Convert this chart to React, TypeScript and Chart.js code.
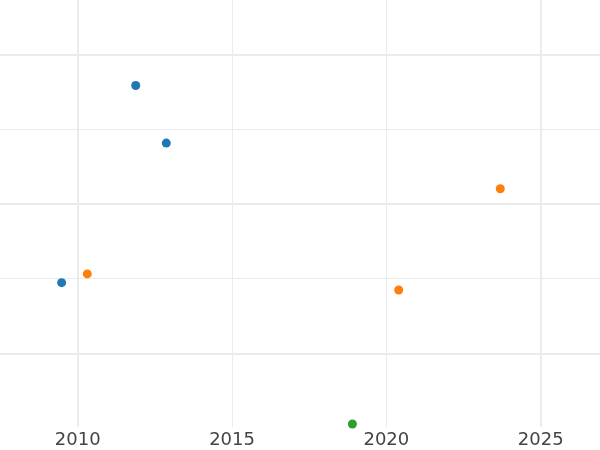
import React, { useEffect, useRef } from "react";
import { Chart, registerables } from "chart.js";

Chart.register(...registerables);

const blueX = [2011.88, 2012.87, 2009.48];
const blueY = [3.593, 2.821, 0.95];
const orangeX = [2010.31, 2020.4, 2023.69];
const orangeY = [1.067, 0.852, 2.209];
const greenX = [2018.9];
const greenY = [-0.945];

const xTicks = [2010, 2015, 2020, 2025];
const yTicks = [0, 1, 2, 3, 4];

const toPts = (xs: number[], ys: number[]) => xs.map((x, i) => ({ x, y: ys[i] }));

export default function App() {
  const ref = useRef<HTMLCanvasElement | null>(null);
  useEffect(() => {
    if (!ref.current) return;
    const mk = (label: string, xs: number[], ys: number[], color: string) => ({
      label,
      data: toPts(xs, ys),
      backgroundColor: color,
      borderColor: color,
      borderWidth: 0,
      pointRadius: 4.5,
      pointHoverRadius: 4.5,
      clip: false as any,
    });
    const chart = new Chart(ref.current, {
      type: "scatter",
      data: {
        datasets: [
          mk("A", blueX, blueY, "#1f77b4"),
          mk("B", orangeX, orangeY, "#ff7f0e"),
          mk("C", greenX, greenY, "#2ca02c"),
        ],
      },
      options: {
        responsive: false,
        animation: false,
        layout: { padding: { left: 0, right: 0, top: 0, bottom: -4.6 }, autoPadding: false },
        plugins: { legend: { display: false }, tooltip: { enabled: false } },
        scales: {
          x: {
            type: "linear",
            min: 2007.483,
            max: 2026.921,
            afterBuildTicks: (s: any) => {
              s.ticks = xTicks.map((v) => ({ value: v }));
            },
            border: { display: false },
            grid: {
              color: "#ebebeb",
              drawTicks: false,
              tickLength: 0,
              lineWidth: (ctx: any) => (ctx.index === 0 || ctx.index === 3 ? 2 : 1),
            },
            ticks: {
              padding: 3,
              color: "#444444",
              font: { family: "DejaVu Sans", size: 18 },
              callback: (v: any) => String(v),
            },
          },
          y: {
            type: "linear",
            min: -0.985,
            max: 4.739,
            afterBuildTicks: (s: any) => {
              s.ticks = yTicks.map((v) => ({ value: v }));
            },
            border: { display: false },
            grid: {
              color: "#ebebeb",
              drawTicks: false,
              tickLength: 0,
              lineWidth: (ctx: any) => (ctx.tick && ctx.tick.value % 2 === 0 ? 2 : 1),
            },
            ticks: { display: false },
          },
        },
      },
    });
    return () => chart.destroy();
  }, []);
  return (
    <div style={{ position: "fixed", left: 0, top: 0, width: 600, height: 450, background: "#fff" }}>
      <canvas ref={ref} width={600} height={450} />
    </div>
  );
}
